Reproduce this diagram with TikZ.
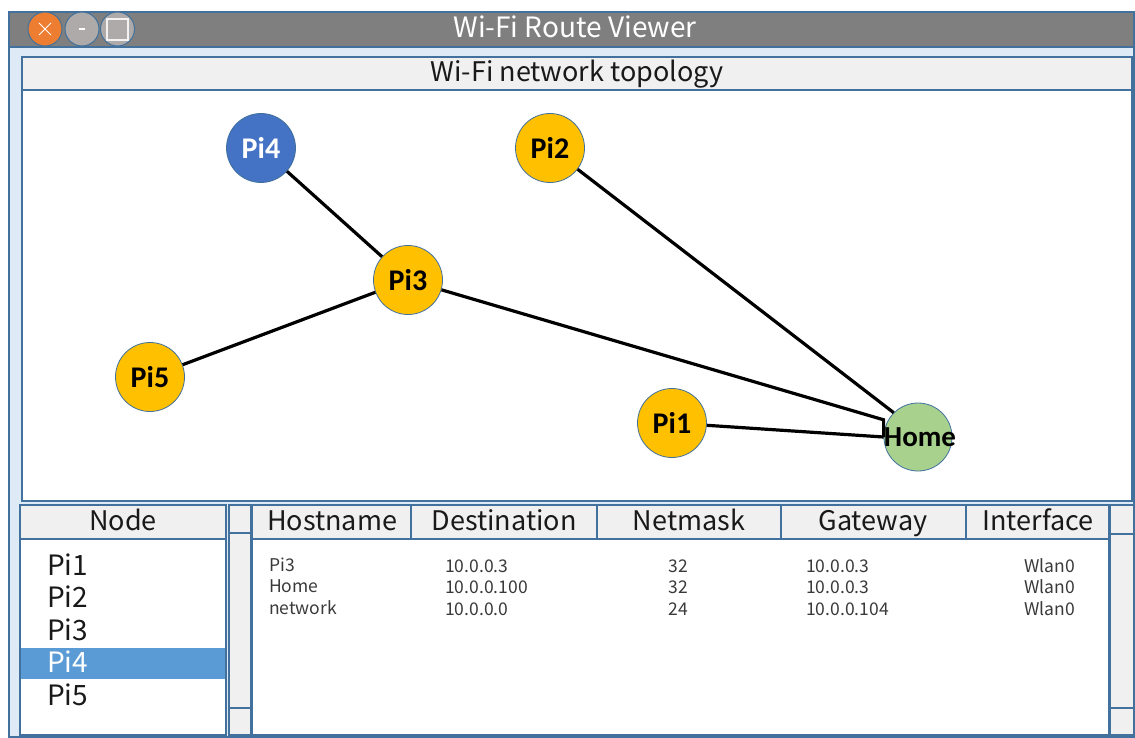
\documentclass[tikz,border=0pt]{standalone}
\usepackage{fontspec}
\newfontfamily\uifont{Noto Sans CJK JP}
\newfontfamily\nodefont{Carlito}

\definecolor{frame}{HTML}{41719C}
\definecolor{titlegray}{HTML}{7F7F7F}
\definecolor{winbg}{HTML}{DEEBF7}
\definecolor{headbg}{HTML}{F0F0F0}
\definecolor{selbg}{HTML}{5B9BD5}
\definecolor{closeor}{HTML}{ED7D31}
\definecolor{btngray}{HTML}{AEAAAA}
\definecolor{piyellow}{HTML}{FFC000}
\definecolor{piblue}{HTML}{4472C4}
\definecolor{homegreen}{HTML}{A9D18E}
\definecolor{datatext}{HTML}{3A3A3A}

\tikzset{
  panel/.style={draw=frame, line width=1.5pt},
  hdr/.style={panel, fill=headbg},
  btn/.style={circle, draw=frame, line width=1pt, minimum size=34pt, inner sep=0pt},
  pinode/.style={circle, draw=frame, line width=0.8pt, minimum size=69pt, inner sep=0pt,
    font=\nodefont\bfseries\fontsize{30}{32}\selectfont},
  edge/.style={line width=3.2pt, black},
  headtxt/.style={font=\uifont\fontsize{27}{29}\selectfont, text=black!90, inner sep=0pt, anchor=base},
  listtxt/.style={font=\uifont\fontsize{28}{30}\selectfont, text=black!90, anchor=base west, inner sep=0pt},
  celltxt/.style={font=\uifont\fontsize{17.5}{19}\selectfont, text=datatext, inner sep=0pt},
  cellw/.style={celltxt, anchor=base west},
  cellc/.style={celltxt, anchor=base},
  celle/.style={celltxt, anchor=base east},
}

\begin{document}
\begin{tikzpicture}[x=1pt,y=-1pt]
\useasboundingbox (0,0) rectangle (1135,738);

% window body and title bar
\fill[winbg] (9,12) rectangle (1134,737);
\draw[panel] (9,12) rectangle (1134,737);
\draw[panel, fill=titlegray] (9,12) rectangle (1134,47);
\node[font=\uifont\fontsize{28}{30}\selectfont, text=white, anchor=base, inner sep=0pt] (title) at (575,38) {Wi-Fi Route Viewer};

% window buttons
\node[btn, fill=closeor] (closebtn) at (45,29) {};
\node[btn, fill=btngray] (minbtn) at (82,29) {};
\node[btn, fill=btngray] (maxbtn) at (117.5,29) {};
\draw[white, line width=1pt] (39,23) -- (51,35) (39,35) -- (51,23);
\draw[white, line width=1.2pt] (79,29) -- (85,29);
\draw[white!90!gray, line width=1.2pt] (107,19) rectangle (128,40);

% topology panel
\draw[panel, fill=white] (22,57) rectangle (1132,501);
\draw[hdr] (22,57) rectangle (1132,90);
\node[headtxt] (topotitle) at (577,82) {Wi-Fi network topology};

% network nodes
\node[pinode, fill=piblue, text=white] (pi4) at (261,148) {Pi4};
\node[pinode, fill=piyellow] (pi2) at (550,148) {Pi2};
\node[pinode, fill=piyellow] (pi3) at (408,280) {Pi3};
\node[pinode, fill=piyellow] (pi5) at (150,377) {Pi5};
\node[pinode, fill=piyellow] (pi1) at (672,423) {Pi1};
\node[pinode, fill=homegreen, minimum size=68pt] (home) at (918,437) {};

% links
\draw[edge] (pi4) -- (pi3);
\draw[edge] (pi3) -- (pi5);
\draw[edge] (pi2) -- (home.135);
\draw[edge] (pi3) -- (home.west |- home.150) -- (home.west);
\draw[edge] (pi1) -- (home.west);
\node[font=\nodefont\bfseries\fontsize{29}{31}\selectfont] (homelabel) at ([xshift=2pt]home.center) {Home};

% node list
\draw[panel, fill=white] (20,505) rectangle (226,735);
\draw[hdr] (20,505) rectangle (226,539);
\node[headtxt] (nodehdr) at (123,530) {Node};
\fill[selbg] (21,648) rectangle (225,679);
\node[listtxt] (l1) at (47,575) {Pi1};
\node[listtxt] (l2) at (47,607.5) {Pi2};
\node[listtxt] (l3) at (47,640) {Pi3};
\node[listtxt, text=white] (l4) at (47,672.5) {Pi4};
\node[listtxt] (l5) at (47,705) {Pi5};

% left scroll bar
\draw[panel, fill=headbg] (229,505) rectangle (251,735);
\draw[panel] (229,533) -- (251,533) (229,708) -- (251,708);

% route table
\draw[panel, fill=white] (252,505) rectangle (1109,735);
\draw[hdr] (252,505) rectangle (1109,539);
\draw[panel] (411,505) -- (411,539) (597,505) -- (597,539)
             (781,505) -- (781,539) (966,505) -- (966,539);
\node[headtxt] (h1) at (332,530) {Hostname};
\node[headtxt] (h2) at (504,530) {Destination};
\node[headtxt] (h3) at (689,530) {Netmask};
\node[headtxt] (h4) at (873,530) {Gateway};
\node[headtxt] (h5) at (1038,530) {Interface};

\node[cellw] (r1c1) at (269,571) {Pi3};
\node[cellw] (r2c1) at (269,592.5) {Home};
\node[cellw] (r3c1) at (269,614) {network};
\node[cellw] (r1c2) at (445,572) {10.0.0.3};
\node[cellw] (r2c2) at (445,593.5) {10.0.0.100};
\node[cellw] (r3c2) at (445,615) {10.0.0.0};
\node[cellc] (r1c3) at (678,572) {32};
\node[cellc] (r2c3) at (678,593.5) {32};
\node[cellc] (r3c3) at (678,615) {24};
\node[cellw] (r1c4) at (806,572) {10.0.0.3};
\node[cellw] (r2c4) at (806,593.5) {10.0.0.3};
\node[cellw] (r3c4) at (806,615) {10.0.0.104};
\node[celle] (r1c5) at (1075,572) {Wlan0};
\node[celle] (r2c5) at (1075,593.5) {Wlan0};
\node[celle] (r3c5) at (1075,615) {Wlan0};

% right scroll bar
\draw[panel, fill=headbg] (1110,505) rectangle (1134,735);
\draw[panel] (1110,534) -- (1134,534) (1110,708) -- (1134,708);
\end{tikzpicture}
\end{document}
